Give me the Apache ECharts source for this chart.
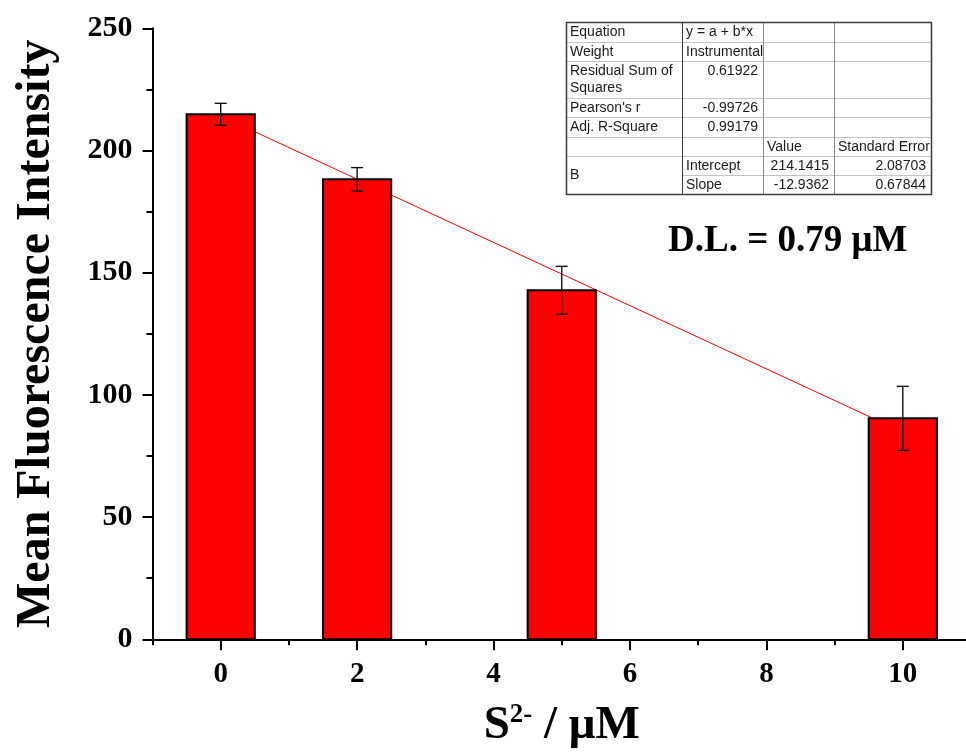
<!DOCTYPE html>
<html>
<head>
<meta charset="utf-8">
<title>Mean Fluorescence Intensity vs S2- concentration</title>
<script src="https://cdn.jsdelivr.net/npm/echarts@6/dist/echarts.min.js"></script>
<style>
  html, body { margin: 0; padding: 0; background: #ffffff; }
  #chart { width: 966px; height: 753px; }
</style>
</head>
<body>
<div id="chart"></div>
<script>
// Sulfide concentrations (µM) and the measured mean fluorescence intensity
const concentrations = [0, 2, 5, 10];
const meanIntensity = [214.8, 188.2, 142.8, 90.4];
const intensityError = [4.5, 4.8, 9.8, 13.1];

// Linear fit y = a + b*x (instrumental weighting)
const fitIntercept = 214.1415;
const fitSlope = -12.9362;
const fitInterceptError = '2.08703';
const fitSlopeError = '0.67844';
const fitRange = [0, 10];

// Axis ticks
const yTickValues = [0, 50, 100, 150, 200, 250];
const xMajorTicks = [0, 2, 4, 6, 8, 10];

// Fit report
const fitReport = [
  ['Equation', 'y = a + b*x', '', ''],
  ['Weight', 'Instrumental', '', ''],
  ['Residual Sum of\nSquares', '0.61922', '', ''],
  ["Pearson's r", '-0.99726', '', ''],
  ['Adj. R-Square', '0.99179', '', ''],
  ['', '', 'Value', 'Standard Error'],
  ['B', 'Intercept', String(fitIntercept), fitInterceptError],
  ['', 'Slope', String(fitSlope), fitSlopeError]
];
const detectionLimit = 'D.L. = 0.79 μM';

const SERIF = '"Liberation Serif", "Times New Roman", serif';
const SANS = '"Liberation Sans", Arial, sans-serif';
const BAR_SPAN = 1.0; // bar width in x-axis units
const CAP = 6;        // half width of error-bar caps, px

const chart = echarts.init(document.getElementById('chart'), null, { renderer: 'canvas' });

// ---- fit report table, drawn as graphic elements ----
function buildTable() {
  const cols = [566, 682, 763, 834, 931];
  const rows = [22, 42, 61, 98, 117, 137, 156, 175, 194];
  const els = [];
  const light = '#c4c4c4';
  const mid = '#8a8a8a';
  const dark = '#3a3a3a';
  els.push({ type: 'rect', shape: { x: cols[0], y: rows[0], width: cols[4] - cols[0], height: rows[8] - rows[0] },
    style: { fill: '#ffffff', stroke: null }, z: 10 });
  // horizontal rules
  for (let r = 1; r < rows.length - 1; r++) {
    const x1 = (r === 7) ? cols[1] : cols[0];
    els.push({ type: 'line', shape: { x1: x1, y1: rows[r] + 0.5, x2: cols[4], y2: rows[r] + 0.5 },
      style: { stroke: light, lineWidth: 1 }, z: 11 });
  }
  // vertical rules
  els.push({ type: 'line', shape: { x1: cols[1] + 0.5, y1: rows[0], x2: cols[1] + 0.5, y2: rows[8] },
    style: { stroke: dark, lineWidth: 1 }, z: 12 });
  for (let c = 2; c < 4; c++) {
    els.push({ type: 'line', shape: { x1: cols[c] + 0.5, y1: rows[0], x2: cols[c] + 0.5, y2: rows[8] },
      style: { stroke: mid, lineWidth: 1 }, z: 12 });
  }
  // outer frame
  els.push({ type: 'rect', shape: { x: cols[0] + 0.5, y: rows[0] + 0.5, width: cols[4] - cols[0], height: rows[8] - rows[0] },
    style: { fill: null, stroke: dark, lineWidth: 1.5 }, z: 13 });

  const isNumber = s => /^-?[0-9.]+$/.test(s);
  fitReport.forEach((row, r) => {
    row.forEach((txt, c) => {
      if (!txt) return;
      let top = rows[r];
      let bottom = rows[r + 1];
      if (r === 6 && c === 0) bottom = rows[8];
      const right = isNumber(txt);
      const tx = right ? cols[c + 1] - 5 : cols[c] + 4;
      const tallRow = r === 2;
      els.push({
        type: 'text', z: 14,
        style: {
          x: tx,
          y: tallRow ? top + 1 : (top + bottom) / 2 + 0.5,
          text: txt,
          font: '14px ' + SANS,
          fill: '#1a1a1a',
          textAlign: right ? 'right' : 'left',
          textVerticalAlign: tallRow ? 'top' : 'middle',
          lineHeight: 17.5
        }
      });
    });
  });
  return els;
}

const option = {
  animation: false,
  backgroundColor: '#ffffff',
  grid: { left: 152.5, width: 818.5, top: 28.3, height: 611, containLabel: false, outerBoundsMode: 'none' },
  xAxis: [
    {
      type: 'value', min: -1, max: 11, interval: 1, position: 'bottom',
      axisLine: { show: true, onZero: false, lineStyle: { color: '#000', width: 2 } },
      axisTick: { show: true, length: 6, lineStyle: { color: '#000', width: 2 } },
      axisLabel: { show: false },
      splitLine: { show: false }
    },
    {
      type: 'value', min: -1, max: 11, position: 'bottom',
      axisLine: { show: false, onZero: false },
      axisTick: { show: true, length: 11, customValues: xMajorTicks, lineStyle: { color: '#000', width: 2 } },
      axisLabel: {
        show: true, customValues: xMajorTicks, margin: 21,
        fontFamily: SERIF, fontWeight: 'bold', fontSize: 29, color: '#000'
      },
      splitLine: { show: false },
      name: '{b|S}{sup|2-}{b| / μM}',
      nameLocation: 'middle',
      nameGap: 62,
      nameTextStyle: {
        rich: {
          b: { fontFamily: SERIF, fontWeight: 'bold', fontSize: 47, color: '#000', lineHeight: 50 },
          sup: { fontFamily: SERIF, fontWeight: 'bold', fontSize: 27, color: '#000', verticalAlign: 'top', lineHeight: 27 }
        }
      }
    }
  ],
  yAxis: {
    type: 'value', min: 0, max: 250, interval: 50,
    axisLine: { show: true, onZero: false, lineStyle: { color: '#000', width: 2 } },
    axisTick: { show: true, length: 10, lineStyle: { color: '#000', width: 2 } },
    minorTick: { show: true, splitNumber: 2, length: 6, lineStyle: { color: '#000', width: 2 } },
    axisLabel: {
      margin: 20, fontFamily: SERIF, fontWeight: 'bold', fontSize: 30, color: '#000',
      customValues: yTickValues
    },
    splitLine: { show: false },
    minorSplitLine: { show: false },
    name: 'Mean Fluorescence Intensity',
    nameLocation: 'middle',
    nameGap: 92,
    nameTextStyle: { fontFamily: SERIF, fontWeight: 'bold', fontSize: 48, color: '#000' }
  },
  series: [
    {
      name: 'Linear fit',
      type: 'line',
      xAxisIndex: 0,
      z: 1,
      symbol: 'none',
      silent: true,
      lineStyle: { color: '#ff0000', width: 1 },
      data: fitRange.map(x => [x, fitIntercept + fitSlope * x])
    },
    {
      name: 'Intensity',
      type: 'custom',
      xAxisIndex: 0,
      z: 2,
      encode: { x: 0, y: 1 },
      data: concentrations.map((c, i) => [c, meanIntensity[i]]),
      renderItem: function (params, api) {
        const x = api.value(0);
        const y = api.value(1);
        const p0 = api.coord([x - BAR_SPAN / 2, y]);
        const p1 = api.coord([x + BAR_SPAN / 2, 0]);
        return {
          type: 'rect',
          shape: { x: p0[0], y: p0[1], width: p1[0] - p0[0], height: p1[1] - p0[1] },
          style: { fill: '#ff0000', stroke: '#000000', lineWidth: 2 }
        };
      }
    },
    {
      name: 'Error',
      type: 'custom',
      xAxisIndex: 0,
      z: 3,
      encode: { x: 0, y: [1, 2] },
      data: concentrations.map((c, i) => [c, meanIntensity[i] + intensityError[i], meanIntensity[i] - intensityError[i]]),
      renderItem: function (params, api) {
        const x = api.value(0);
        const hi = api.coord([x, api.value(1)]);
        const lo = api.coord([x, api.value(2)]);
        const st = { stroke: '#111111', lineWidth: 1.4 };
        return {
          type: 'group',
          children: [
            { type: 'line', shape: { x1: hi[0], y1: hi[1], x2: lo[0], y2: lo[1] }, style: st },
            { type: 'line', shape: { x1: hi[0] - CAP, y1: hi[1], x2: hi[0] + CAP, y2: hi[1] }, style: st },
            { type: 'line', shape: { x1: lo[0] - CAP, y1: lo[1], x2: lo[0] + CAP, y2: lo[1] }, style: st }
          ]
        };
      }
    }
  ],
  graphic: [
    ...buildTable(),
    {
      type: 'text', z: 20,
      style: {
        x: 668, y: 241,
        text: detectionLimit,
        font: 'bold 37px ' + SERIF,
        fill: '#000',
        textAlign: 'left',
        textVerticalAlign: 'middle'
      }
    }
  ]
};

chart.setOption(option);
</script>
</body>
</html>
